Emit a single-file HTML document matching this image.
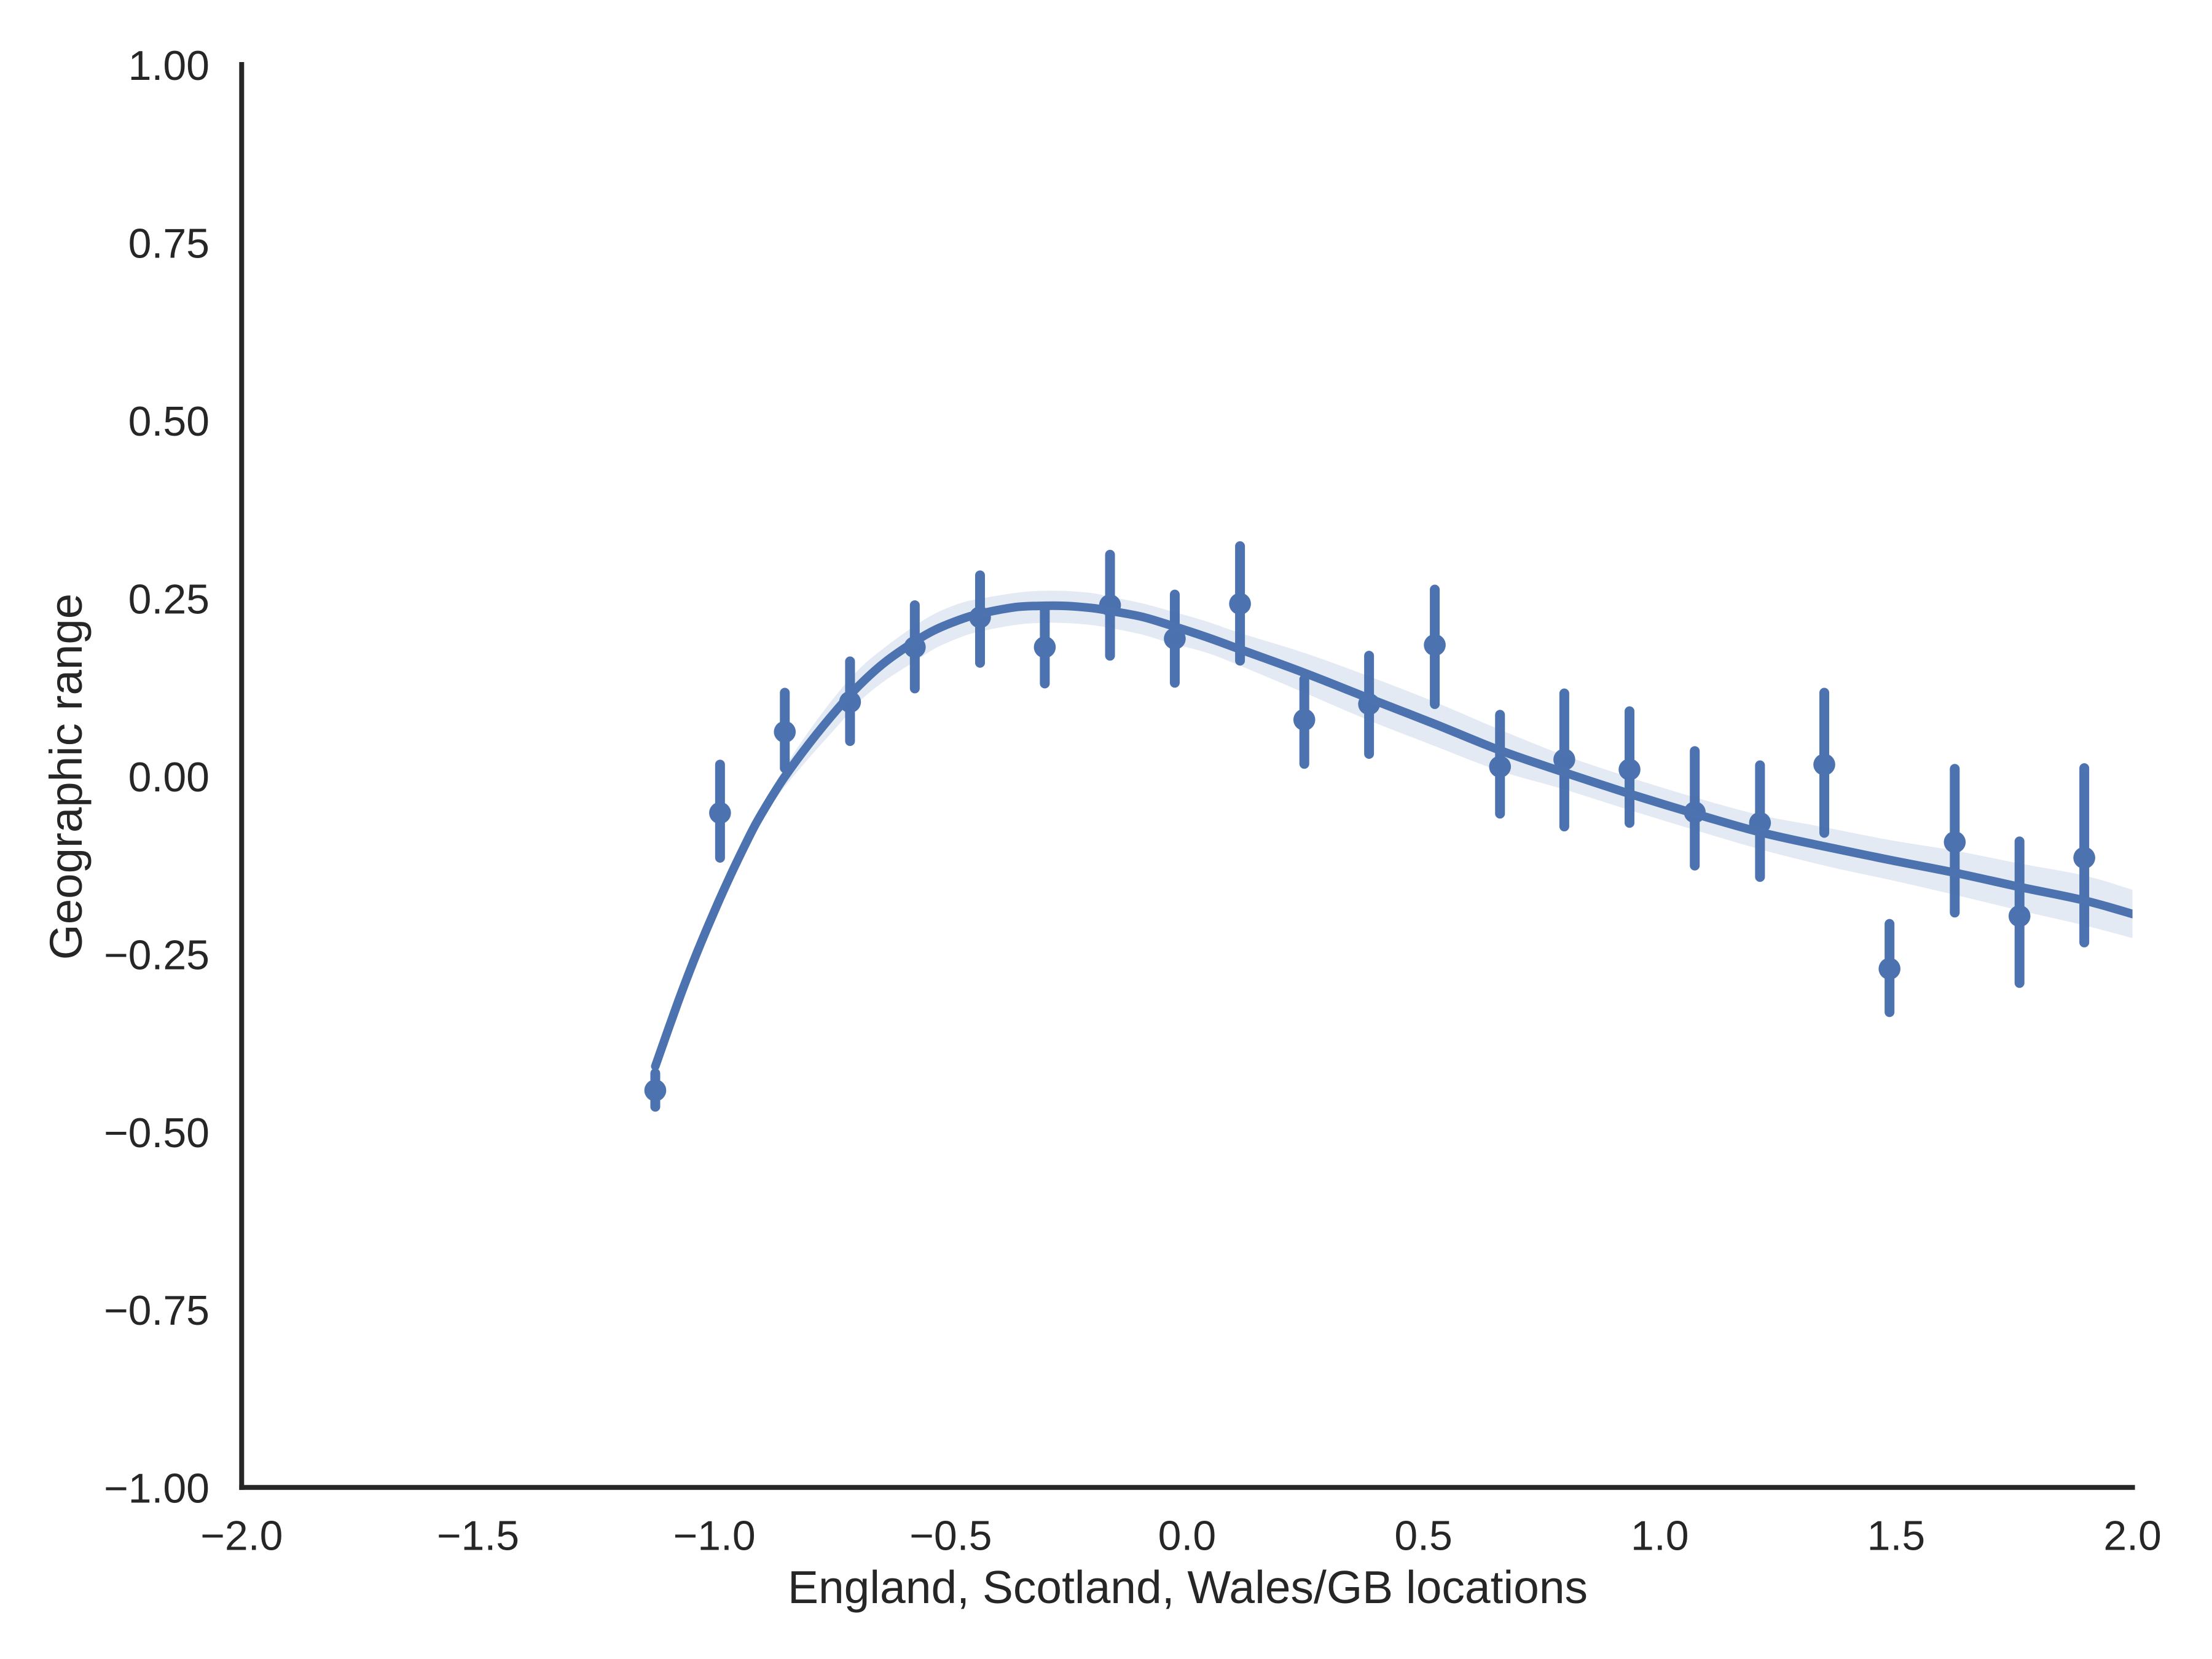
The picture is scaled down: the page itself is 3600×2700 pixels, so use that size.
<!DOCTYPE html>
<html lang="en">
<head>
<meta charset="utf-8">
<title>Geographic range vs England, Scotland, Wales/GB locations</title>
<style>
html,body{margin:0;padding:0;background:#fff;}
body{width:3600px;height:2700px;overflow:hidden;}
svg{display:block;}
text{font-family:"Liberation Sans",Arial,sans-serif;fill:#262626;}
</style>
</head>
<body>
<svg id="chart" xmlns="http://www.w3.org/2000/svg" width="3600" height="2700" viewBox="0 0 3600 2700">
  <rect x="0" y="0" width="3600" height="2700" fill="#ffffff"/>
  <defs><clipPath id="plot-clip"><rect x="393" y="105" width="3077.6" height="2316"/></clipPath></defs>
  <g id="points"></g>
  <g id="fit" clip-path="url(#plot-clip)"></g>
  <g id="x-ticks"></g>
  <g id="y-ticks"></g>
  <line id="y-spine" stroke="#262626" stroke-width="8" stroke-linecap="square"/>
  <line id="x-spine" stroke="#262626" stroke-width="8" stroke-linecap="square"/>
  <text x="1933" y="2609" font-size="75" text-anchor="middle">England, Scotland, Wales/GB locations</text>
  <text transform="translate(133 1264) rotate(-90)" font-size="74.5" text-anchor="middle">Geographic range</text>
</svg>
<script>
const xTickValues = [-2.0, -1.5, -1.0, -0.5, 0.0, 0.5, 1.0, 1.5, 2.0];
const xTickLabels = ["\u22122.0", "\u22121.5", "\u22121.0", "\u22120.5", "0.0", "0.5", "1.0", "1.5", "2.0"];
const yTickValues = [-1.0, -0.75, -0.5, -0.25, 0.0, 0.25, 0.5, 0.75, 1.0];
const yTickLabels = ["\u22121.00", "\u22120.75", "\u22120.50", "\u22120.25", "0.00", "0.25", "0.50", "0.75", "1.00"];

const binX = [-1.125, -0.988, -0.851, -0.713, -0.576, -0.438, -0.301, -0.163, -0.026, 0.112, 0.248, 0.385, 0.524, 0.662, 0.798, 0.936, 1.074, 1.212, 1.348, 1.486, 1.624, 1.761, 1.898];
const binMean = [-0.442, -0.052, 0.062, 0.104, 0.181, 0.223, 0.181, 0.240, 0.193, 0.242, 0.079, 0.101, 0.184, 0.013, 0.023, 0.009, -0.051, -0.066, 0.016, -0.271, -0.093, -0.197, -0.115];
const binHigh = [-0.418, 0.016, 0.117, 0.161, 0.240, 0.282, 0.233, 0.311, 0.255, 0.323, 0.136, 0.169, 0.262, 0.086, 0.116, 0.091, 0.035, 0.015, 0.117, -0.208, 0.010, -0.092, 0.011];
const binLow = [-0.465, -0.115, 0.011, 0.049, 0.123, 0.159, 0.130, 0.169, 0.131, 0.162, 0.017, 0.031, 0.101, -0.053, -0.071, -0.066, -0.126, -0.142, -0.080, -0.332, -0.192, -0.291, -0.234];

const fitX = [-1.125, -1.077, -1.045, -1.016, -0.990, -0.964, -0.938, -0.912, -0.880, -0.851, -0.800, -0.741, -0.691, -0.639, -0.576, -0.531, -0.479, -0.438, -0.366, -0.314, -0.258, -0.201, -0.163, -0.097, -0.041, 0.042, 0.112, 0.248, 0.385, 0.524, 0.662, 0.798, 0.936, 1.074, 1.212, 1.348, 1.486, 1.624, 1.761, 1.898, 2.0];
const fitY = [-0.408, -0.318, -0.262, -0.215, -0.175, -0.137, -0.101, -0.067, -0.031, -0.001, 0.045, 0.093, 0.129, 0.160, 0.189, 0.206, 0.220, 0.228, 0.237, 0.239, 0.239, 0.236, 0.232, 0.224, 0.213, 0.195, 0.178, 0.145, 0.109, 0.073, 0.036, 0.005, -0.025, -0.053, -0.079, -0.099, -0.118, -0.136, -0.156, -0.175, -0.194];
const fitUpper = [-0.406, -0.316, -0.260, -0.211, -0.171, -0.131, -0.095, -0.060, -0.021, 0.012, 0.063, 0.115, 0.152, 0.181, 0.211, 0.229, 0.243, 0.249, 0.257, 0.260, 0.260, 0.257, 0.252, 0.243, 0.233, 0.217, 0.201, 0.173, 0.140, 0.104, 0.065, 0.029, -0.002, -0.030, -0.055, -0.072, -0.090, -0.105, -0.123, -0.140, -0.160];
const fitLower = [-0.409, -0.321, -0.265, -0.218, -0.180, -0.143, -0.108, -0.076, -0.042, -0.015, 0.025, 0.069, 0.106, 0.134, 0.161, 0.180, 0.195, 0.203, 0.212, 0.215, 0.215, 0.212, 0.208, 0.199, 0.188, 0.173, 0.155, 0.117, 0.078, 0.042, 0.007, -0.019, -0.048, -0.076, -0.103, -0.126, -0.146, -0.167, -0.189, -0.210, -0.228];

const SVG_NS = "http://www.w3.org/2000/svg";
const BLUE = "#4c72b0";
const plot = { left: 393.3, right: 3470.6, top: 105, bottom: 2420.7 };
const xScale = v => plot.left + (v - (-2)) / 4 * (plot.right - plot.left);
const yScale = v => plot.bottom - (v - (-1)) / 2 * (plot.bottom - plot.top);

function make(tag, attrs, parent) {
  const el = document.createElementNS(SVG_NS, tag);
  Object.keys(attrs).forEach(k => el.setAttribute(k, attrs[k]));
  parent.appendChild(el);
  return el;
}

function smoothSegments(pts) {
  let d = "";
  for (let i = 0; i < pts.length - 1; i++) {
    const p0 = pts[Math.max(i - 1, 0)];
    const p1 = pts[i];
    const p2 = pts[i + 1];
    const p3 = pts[Math.min(i + 2, pts.length - 1)];
    const c1x = p1[0] + (p2[0] - p0[0]) / 6;
    const c1y = p1[1] + (p2[1] - p0[1]) / 6;
    const c2x = p2[0] - (p3[0] - p1[0]) / 6;
    const c2y = p2[1] - (p3[1] - p1[1]) / 6;
    d += " C" + c1x.toFixed(1) + " " + c1y.toFixed(1) + " " + c2x.toFixed(1) + " " + c2y.toFixed(1) + " " + p2[0].toFixed(1) + " " + p2[1].toFixed(1);
  }
  return d;
}

const ySpine = document.getElementById("y-spine");
ySpine.setAttribute("x1", plot.left);
ySpine.setAttribute("x2", plot.left);
ySpine.setAttribute("y1", plot.top);
ySpine.setAttribute("y2", plot.bottom);
const xSpine = document.getElementById("x-spine");
xSpine.setAttribute("x1", plot.left);
xSpine.setAttribute("x2", plot.right);
xSpine.setAttribute("y1", plot.bottom);
xSpine.setAttribute("y2", plot.bottom);

const xTickGroup = document.getElementById("x-ticks");
xTickValues.forEach((v, i) => {
  const t = make("text", { x: xScale(v), y: 2522.5, "font-size": 68, "text-anchor": "middle" }, xTickGroup);
  t.textContent = xTickLabels[i];
  
  
});

const yTickGroup = document.getElementById("y-ticks");
yTickValues.forEach((v, i) => {
  const t = make("text", { x: 341, y: yScale(v) + 25, "font-size": 68, "text-anchor": "end" }, yTickGroup);
  t.textContent = yTickLabels[i];
  
  
});

const pointGroup = document.getElementById("points");
binX.forEach((v, i) => {
  const bar = make("line", {
    x1: xScale(v), x2: xScale(v), y1: yScale(binHigh[i]), y2: yScale(binLow[i]),
    stroke: BLUE, "stroke-width": 16, "stroke-linecap": "round"
  }, pointGroup);
  
  
  const dot = make("circle", { cx: xScale(v), cy: yScale(binMean[i]), r: 17.8, fill: BLUE }, pointGroup);
  
  
});

const fitGroup = document.getElementById("fit");
const upperPts = fitX.map((v, i) => [xScale(v), yScale(fitUpper[i])]);
const lowerPts = fitX.map((v, i) => [xScale(v), yScale(fitLower[i])]).reverse();
const bandPath = "M" + upperPts[0][0].toFixed(1) + " " + upperPts[0][1].toFixed(1) + smoothSegments(upperPts) +
  " L" + lowerPts[0][0].toFixed(1) + " " + lowerPts[0][1].toFixed(1) + smoothSegments(lowerPts) + " Z";
const band = make("path", { d: bandPath, fill: BLUE, "fill-opacity": 0.15, stroke: "none" }, fitGroup);


const linePts = fitX.map((v, i) => [xScale(v), yScale(fitY[i])]);
const linePath = "M" + linePts[0][0].toFixed(1) + " " + linePts[0][1].toFixed(1) + smoothSegments(linePts);
const fitLine = make("path", { d: linePath, fill: "none", stroke: BLUE, "stroke-width": 14, "stroke-linejoin": "round", "stroke-linecap": "round" }, fitGroup);


</script>
</body>
</html>
